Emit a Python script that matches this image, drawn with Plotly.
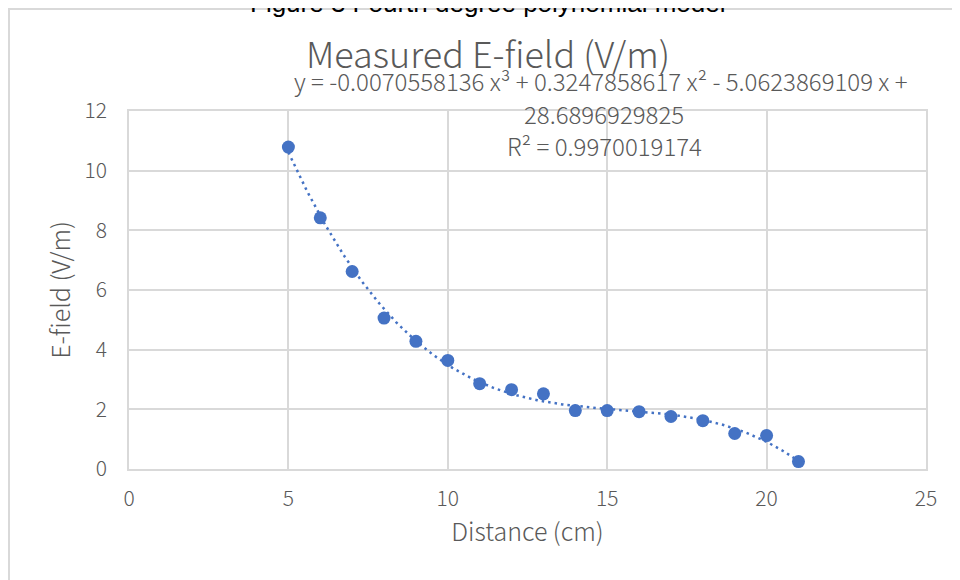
import numpy as np
import plotly.graph_objects as go

# ---- data ----
distance_cm = [5, 6, 7, 8, 9, 10, 11, 12, 13, 14, 15, 16, 17, 18, 19, 20, 21]
efield_vm = [10.79, 8.42, 6.62, 5.06, 4.28, 3.64, 2.86, 2.66, 2.52, 1.96, 1.96, 1.92, 1.76, 1.62, 1.19, 1.12, 0.25]
# trendline coefficients as shown on the chart (x^3, x^2, x, const)
trend_coeffs = [-0.0070558136, 0.3247858617, -5.0623869109, 28.6896929825]
r_squared = "0.9970019174"
x_ticks = [0, 5, 10, 15, 20, 25]
y_ticks = [0, 2, 4, 6, 8, 10, 12]

OFF = 8  # page offset of the figure
W, H = 960, 580
L, R, T, B = 129 - OFF, 926 - OFF, 111 - OFF, 469 - OFF
pw, ph = R - L, B - T


def px(xp):  # reference page pixel -> paper
    return (xp - OFF - L) / pw


def py(yp):
    return (B - (yp - OFF)) / ph


BLUE = "#4472C4"
GRAY_TXT = "#595959"
GRID = "#D9D9D9"
FONT = "Noto Sans CJK SC"

tx = np.linspace(distance_cm[0], distance_cm[-1], 200)
ty = np.polyval(trend_coeffs, tx)

fig = go.Figure()
fig.add_trace(go.Scatter(x=tx, y=ty, mode="lines",
                         line=dict(color=BLUE, width=2.5, dash="2.5px,4px"),
                         hoverinfo="skip", showlegend=False))
fig.add_trace(go.Scatter(x=distance_cm, y=efield_vm, mode="markers",
                         marker=dict(color=BLUE, size=13), showlegend=False))

axis_common = dict(showgrid=True, gridcolor=GRID, gridwidth=1.5,
                   showline=True, linecolor=GRID, linewidth=1.5, mirror=True,
                   zeroline=False, ticks="", automargin=False,
                   tickfont=dict(family=FONT, size=21, color=GRAY_TXT, weight=300))

fig.update_xaxes(range=[0, 25], tickvals=x_ticks, ticklabelstandoff=10,
                 title=dict(text="Distance (cm)", font=dict(family=FONT, size=25, color=GRAY_TXT, weight=300), standoff=10),
                 **axis_common)
fig.update_yaxes(range=[0, 12], tickvals=y_ticks, ticklabelstandoff=16,
                 title=dict(text="E-field (V/m)", font=dict(family=FONT, size=25, color=GRAY_TXT, weight=300), standoff=7),
                 **axis_common)

eq_line1 = (f"y = {trend_coeffs[0]:.10f} x³ + {trend_coeffs[1]:.10f} x² - "
            f"{abs(trend_coeffs[2]):.10f} x +")
eq_line2 = f"{trend_coeffs[3]:.10f}"
eq_line3 = f"R² = {r_squared}"

EQ = 24
ann = [
    dict(text="Measured E-field (V/m)", x=px(488), y=py(52), font=dict(family=FONT, size=36, color=GRAY_TXT, weight=300)),
    dict(text=eq_line1, x=px(601), y=py(81), font=dict(family=FONT, size=EQ, color=GRAY_TXT, weight=300)),
    dict(text=eq_line2, x=px(604), y=py(113), font=dict(family=FONT, size=EQ, color=GRAY_TXT, weight=300)),
    dict(text=eq_line3, x=px(604), y=py(145), font=dict(family=FONT, size=EQ, color=GRAY_TXT, weight=300)),
    dict(text="Figure 3 Fourth degree polynomial model", x=px(487), y=py(3),
         font=dict(family="Liberation Sans", size=26, color="#000000")),
]
for a in ann:
    a.update(xref="paper", yref="paper", xanchor="center", yanchor="middle", showarrow=False)

fig.update_layout(
    width=W, height=H,
    margin=dict(l=L, r=W - R, t=T, b=H - B, pad=0),
    paper_bgcolor="white", plot_bgcolor="white",
    annotations=ann,
    shapes=[dict(type="rect", xref="paper", yref="paper",
                 x0=px(OFF + 1), x1=px(1000), y0=py(OFF + 1), y1=py(640),
                 line=dict(color=GRID, width=2), fillcolor="rgba(0,0,0,0)", layer="above")],
)

fig.write_html("out.html")
